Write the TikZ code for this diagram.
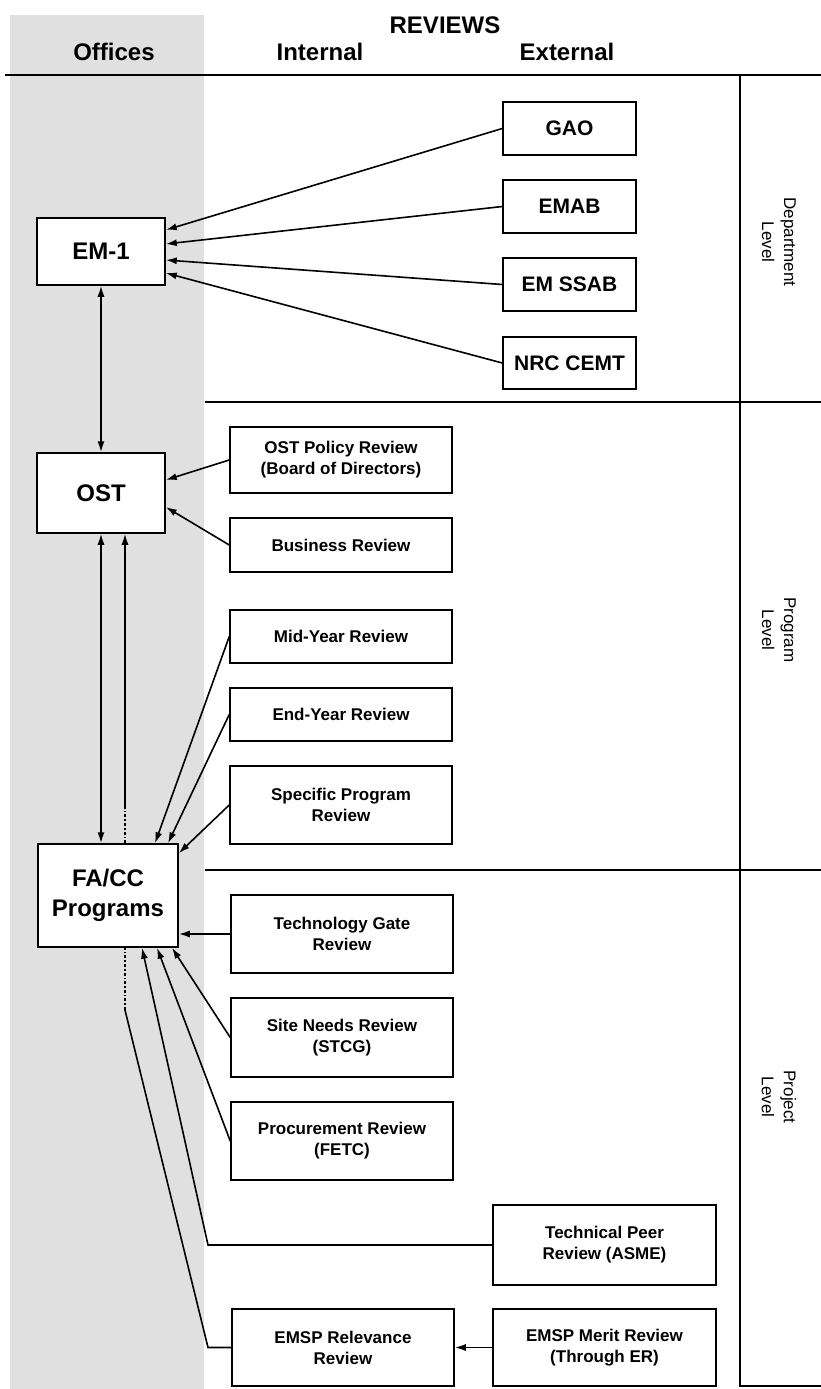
\documentclass[tikz,border=0pt]{standalone}
\usepackage{fontspec}
\setmainfont{Liberation Sans}
\usetikzlibrary{arrows.meta, calc, positioning}

\begin{document}
\begin{tikzpicture}[x=1pt, y=-1pt, line width=1.6pt, >={Latex[length=11pt, width=7pt]}]

\tikzstyle{block} = [rectangle, draw, fill=white, text centered, align=center, inner sep=2pt, line width=1.5pt]
\tikzstyle{ext} = [block, minimum width=133pt, minimum height=53pt, font=\bfseries\fontsize{21}{25}\selectfont]
\tikzstyle{int} = [block, minimum width=222pt, font=\bfseries\fontsize{17}{21}\selectfont]
\tikzstyle{office} = [block, minimum width=128pt, font=\bfseries\fontsize{24}{30}\selectfont]
\tikzstyle{head} = [font=\bfseries\fontsize{24}{28}\selectfont]
\tikzstyle{level} = [rotate=-90, align=center, font=\fontsize{17}{22}\selectfont]

\useasboundingbox (0,0) rectangle (821,1389);

% Offices column
\fill[black!12] (10,15) rectangle (204,1389);

% Headings
\node[head] (reviews) at (445,25) {REVIEWS};
\node[head] (offices) at (114,52) {Offices};
\node[head] (internal) at (320,52) {Internal};
\node[head] (external) at (567,52) {External};

% Frame
\draw[line width=2.2pt] (5,75) -- (821,75);
\draw (740,75) -- (740,1386) -- (821,1386);
\draw (205,402) -- (821,402);
\draw (205,870) -- (821,870);

\node[level] (dept) at (779,242) {Department\\Level};
\node[level] (prog) at (779,630) {Program\\Level};
\node[level] (proj) at (779,1097) {Project\\Level};

% Offices
\node[office, minimum height=67pt] (em1) at (101,251.5) {EM-1};
\node[office, minimum height=80pt] (ost) at (101,493) {OST};
\node[office, minimum width=140pt, minimum height=103pt] (facc) at (108,895.5) {FA/CC\\Programs};

% External reviews, department level
\node[ext] (gao) at (569.5,128.5) {GAO};
\node[ext] (emab) at (569.5,206.5) {EMAB};
\node[ext] (emssab) at (569.5,284.5) {EM SSAB};
\node[ext, minimum height=52pt] (nrc) at (569.5,363) {NRC CEMT};

% Internal reviews
\node[int, minimum height=66pt] (policy) at (341,460) {OST Policy Review\\(Board of Directors)};
\node[int, minimum height=54pt] (business) at (341,545) {Business Review};
\node[int, minimum height=53pt] (midyear) at (341,636.5) {Mid-Year Review};
\node[int, minimum height=53pt] (endyear) at (341,714.5) {End-Year Review};
\node[int, minimum height=78pt] (specific) at (341,805) {Specific Program\\Review};
\node[int, minimum height=78pt] (techgate) at (342,934) {Technology Gate\\Review};
\node[int, minimum height=79pt] (siteneeds) at (342,1037.5) {Site Needs Review\\(STCG)};
\node[int, minimum height=78pt] (procure) at (342,1141) {Procurement Review\\(FETC)};
\node[int, minimum height=77pt] (relevance) at (343,1347.5) {EMSP Relevance\\Review};

% External reviews, project level
\node[int, minimum width=223pt, minimum height=80pt] (techpeer) at (604.5,1245) {Technical Peer\\Review (ASME)};
\node[int, minimum width=223pt, minimum height=77pt] (merit) at (604.5,1347.5) {EMSP Merit Review\\(Through ER)};

% Connections
\draw[->] (gao.west) -- ($(em1.east)+(0,-21.5)$);
\draw[->] (emab.west) -- ($(em1.east)+(0,-7.5)$);
\draw[->] (emssab.west) -- ($(em1.east)+(0,8.5)$);
\draw[->] (nrc.west) -- ($(em1.east)+(0,21.5)$);
\draw[<->] (em1.south) -- (ost.north);
\draw[<->] (ost.south) -- (ost.south |- facc.north);
\draw[->] ($(facc.north)+(17,-34)$) -- ($(ost.south)+(24,0)$);
\draw[dash dot] ($(facc.north)+(17,0)$) -- ($(facc.north)+(17,-34)$);
\draw[->] (policy.west) -- ($(ost.east)+(0,-13)$);
\draw[->] (business.west) -- ($(ost.east)+(0,14)$);
\draw[->] (midyear.west) -- ($(facc.north)+(47,0)$);
\draw[->] (endyear.west) -- ($(facc.north)+(60,0)$);
\draw[->] (specific.west) -- ($(facc.north east)+(0,10)$);
\draw[->] (techgate.west) -- (techgate.west -| facc.east);
\draw[->] (siteneeds.west) -- ($(facc.south)+(64,0)$);
\draw[->] (procure.west) -- ($(facc.south)+(49,0)$);
\coordinate (peerbend) at (208,1245);
\draw[->] (techpeer.west) -- (peerbend) -- ($(facc.south)+(34,0)$);
\coordinate (relbend) at (208,1347.5);
\coordinate (reljoin) at (125,1010);
\draw (relevance.west) -- (relbend) -- (reljoin);
\draw[dash dot] (reljoin) -- (reljoin |- facc.south);
\draw[->] (merit.west) -- (relevance.east);

\end{tikzpicture}
\end{document}
